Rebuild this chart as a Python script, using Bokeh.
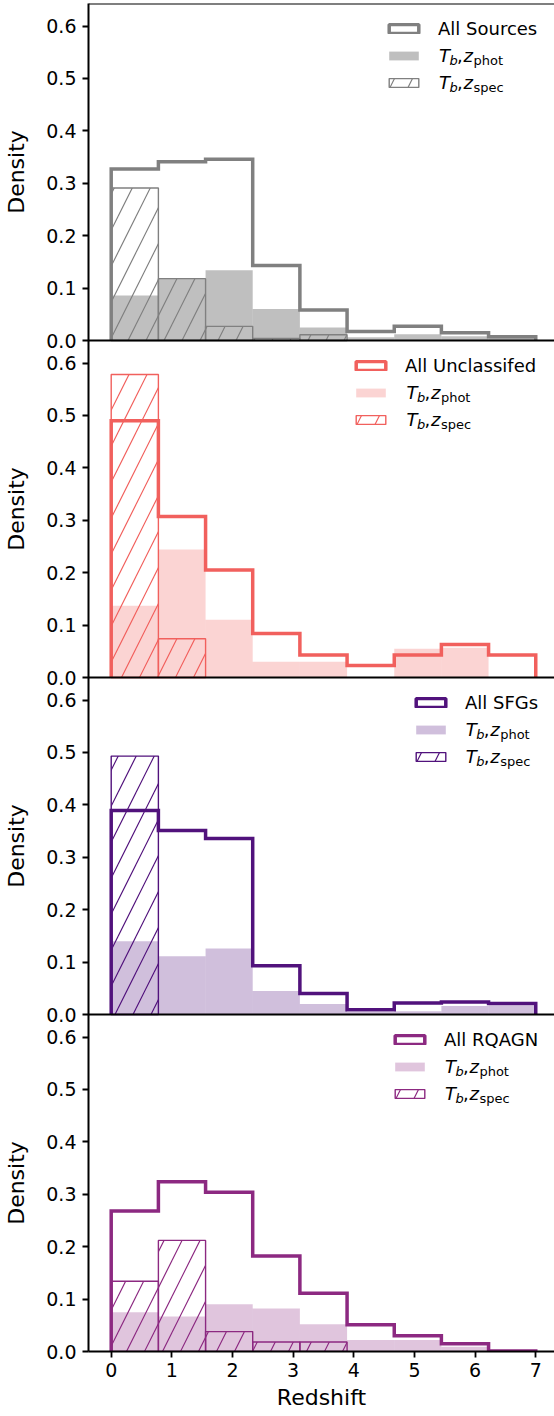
import numpy as np
from bokeh.embed import file_html
from bokeh.models import (FixedTicker, Label, Legend, LegendItem, LinearAxis,
                          Range1d, Span)
from bokeh.plotting import figure
from bokeh.resources import INLINE

# redshift bin edges (9 equal bins from 0 to 7)
edges = [0.0, 0.778, 1.556, 2.333, 3.111, 3.889, 4.667, 5.444, 6.222, 7.0]

all_sources = [0.327, 0.341, 0.346, 0.143, 0.058, 0.017, 0.027, 0.015, 0.007]
sources_phot = [0.086, 0.118, 0.134, 0.060, 0.025, 0.006, 0.012, 0.008, 0.005]
sources_spec = [0.291, 0.118, 0.027, 0.004, 0.011, 0.0, 0.0, 0.0, 0.0]

all_unclass = [0.490, 0.307, 0.205, 0.084, 0.043, 0.023, 0.043, 0.063, 0.043]
unclass_phot = [0.137, 0.244, 0.110, 0.030, 0.030, 0.0, 0.055, 0.057, 0.0]
unclass_spec = [0.578, 0.074, 0.0, 0.0, 0.0, 0.0, 0.0, 0.0, 0.0]

all_sfg = [0.389, 0.351, 0.336, 0.093, 0.040, 0.009, 0.022, 0.024, 0.021]
sfg_phot = [0.140, 0.111, 0.126, 0.045, 0.020, 0.005, 0.006, 0.016, 0.017]
sfg_spec = [0.493, 0.0, 0.0, 0.0, 0.0, 0.0, 0.0, 0.0, 0.0]

all_rqagn = [0.268, 0.324, 0.304, 0.182, 0.111, 0.051, 0.030, 0.015, 0.001]
rqagn_phot = [0.075, 0.067, 0.090, 0.082, 0.052, 0.022, 0.022, 0.009, 0.003]
rqagn_spec = [0.134, 0.212, 0.038, 0.018, 0.018, 0.0, 0.0, 0.0, 0.0]

names = ["All Sources", "All Unclassifed", "All SFGs", "All RQAGN"]
subs = ["phot", "spec"]
colors = ["#808080", "#f1605d", "#51127c", "#8c2981"]
fill_alphas = [0.5, 0.27, 0.27, 0.27]

y_ticks = [0.0, 0.1, 0.2, 0.3, 0.4, 0.5, 0.6]
y_tick_labels = ["0.0", "0.1", "0.2", "0.3", "0.4", "0.5", "0.6"]
x_ticks = [0, 1, 2, 3, 4, 5, 6, 7]

series = [
    (all_sources, sources_phot, sources_spec),
    (all_unclass, unclass_phot, unclass_spec),
    (all_sfg, sfg_phot, sfg_spec),
    (all_rqagn, rqagn_phot, rqagn_spec),
]

FONT = "DejaVu Sans"
W, H = 554, 1416
LEFT, TOP, BOTTOM = 82, 3, 65
FRAME_W = W - LEFT
FRAME_H = H - TOP - BOTTOM
PANEL = 0.643            # y extent of one panel
XS = 61.43               # px per redshift unit
x_start = -0.3744
x_end = x_start + FRAME_W / XS
y_top = 4 * PANEL
YS = FRAME_H / y_top
PH = FRAME_H / 4

# legend geometry (frame px)
legend_x = [297, 264, 324, 303]
ROW_H, ROW_GAP = 24, 3
ROW1 = 25.0


def to_x(px):
    return x_start + px / XS


def to_y(px_from_top):
    return y_top - px_from_top / YS


def stairs(vals, off):
    xs, ys = [edges[0]], [off]
    for i, v in enumerate(vals):
        xs += [edges[i], edges[i + 1]]
        ys += [off + v, off + v]
    xs.append(edges[-1])
    ys.append(off)
    return xs, ys


p = figure(width=W, height=H, x_range=Range1d(x_start, x_end),
           y_range=Range1d(0, y_top), output_backend="svg",
           toolbar_location=None, min_border_left=LEFT, min_border_right=0,
           min_border_top=TOP, min_border_bottom=BOTTOM)
p.outline_line_color = None
p.grid.visible = False

for ax in (p.xaxis[0], p.yaxis[0]):
    ax.axis_line_width = 2
    ax.major_tick_line_width = 1.8
    ax.major_tick_out = 6
    ax.major_tick_in = 0
    ax.minor_tick_line_color = None
    ax.major_label_text_font = FONT
    ax.major_label_text_font_size = "19px"
    ax.major_label_text_color = "black"

p.xaxis.ticker = FixedTicker(ticks=x_ticks)
p.xaxis.major_label_standoff = 5
p.xaxis.axis_label = "Redshift"
p.xaxis.axis_label_text_font = FONT
p.xaxis.axis_label_text_font_size = "22px"
p.xaxis.axis_label_text_font_style = "normal"
p.xaxis.axis_label_text_color = "black"
p.xaxis.axis_label_standoff = 5

offsets = [(3 - j) * PANEL for j in range(4)]
yt, overrides = [], {}
for off in offsets:
    for t, lab in zip(y_ticks, y_tick_labels):
        v = round(off + t, 4)
        yt.append(v)
        overrides[v] = lab
p.yaxis.ticker = FixedTicker(ticks=yt)
p.yaxis.major_label_overrides = overrides
p.yaxis.major_label_standoff = 6

# outer left axis carrying one "Density" label per panel
mids = [round(off + PANEL / 2, 4) for off in offsets]
dens = LinearAxis(ticker=FixedTicker(ticks=mids),
                  major_label_overrides={m: "Density" for m in mids},
                  major_label_orientation="vertical", axis_line_color=None,
                  major_tick_line_color=None, minor_tick_line_color=None,
                  major_label_standoff=9, major_label_text_font=FONT,
                  major_label_text_font_size="22px",
                  major_label_text_color="black")
p.add_layout(dens, "left")

left, right = edges[:-1], edges[1:]
for j, (tot, phot, spec) in enumerate(series):
    off = offsets[j]
    col = colors[j]

    r_phot = p.quad(left=left, right=right, bottom=off,
                    top=[off + v for v in phot], fill_color=col,
                    fill_alpha=fill_alphas[j], line_color=None)

    keep = [i for i, v in enumerate(spec) if v > 0]
    r_spec = p.quad(left=[left[i] for i in keep], right=[right[i] for i in keep],
                    bottom=off, top=[off + spec[i] for i in keep],
                    fill_color=None, line_color=col, line_width=1.4,
                    hatch_pattern="/", hatch_color=col, hatch_scale=36,
                    hatch_weight=1.2)

    xs, ys = stairs(tot, off)
    p.line(xs, ys, line_color=col, line_width=3.5, line_join="miter")

    # NaN box: nothing in the frame, only gives the step outline its legend swatch
    nan = np.array([np.nan])
    r_box = p.quad(left=nan, right=nan, top=nan, bottom=nan, fill_color=None,
                   line_color=col, line_width=3.5)

    leg_h = 3 * ROW_H + 2 * ROW_GAP
    leg_top = j * PH + ROW1 - ROW_H / 2
    leg = Legend(items=[LegendItem(label=names[j], renderers=[r_box]),
                        LegendItem(label=" ", renderers=[r_phot]),
                        LegendItem(label=" ", renderers=[r_spec])],
                 location=(legend_x[j], FRAME_H - leg_top - leg_h),
                 padding=0, margin=0, spacing=ROW_GAP,
                 glyph_width=37, glyph_height=11, label_standoff=16,
                 label_height=ROW_H, label_text_font=FONT,
                 label_text_font_size="18px", label_text_baseline="middle",
                 label_text_color="black",
                 border_line_color=None, background_fill_alpha=0)
    p.add_layout(leg)

    # math labels T_b, z_phot / T_b, z_spec
    tx = to_x(legend_x[j] + 58)
    for k, sub in enumerate(subs):
        yc = to_y(j * PH + ROW1 + (k + 1) * (ROW_H + ROW_GAP))
        pieces = [("T", 0, 0, "18px", "italic"), ("b", 10.5, -5, "13px", "italic"),
                  (",", 18, 0, "18px", "normal"), ("z", 24.5, 0, "18px", "italic"),
                  (sub, 34.5, -5, "13px", "normal")]
        for txt, dx, dy, size, style in pieces:
            p.add_layout(Label(x=tx, y=yc, x_offset=dx, y_offset=dy, text=txt,
                               text_font=FONT, text_font_size=size,
                               text_font_style=style, text_baseline="middle",
                               text_align="left", text_color="black"))

for k in range(1, 5):
    p.add_layout(Span(location=k * PANEL, dimension="width",
                      line_color="black", line_width=2))

open("out.html", "w").write(file_html(p, INLINE))
